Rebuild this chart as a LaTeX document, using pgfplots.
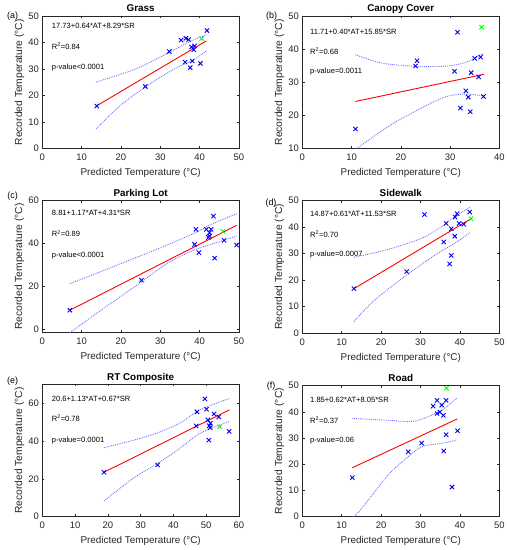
\documentclass[border=0pt]{standalone}
\usepackage{pgfplots}
\pgfplotsset{compat=1.18}
\usepackage{fontspec}
\setmainfont{Liberation Sans}
\definecolor{axgray}{rgb}{0.15,0.15,0.15}
\definecolor{bandblue}{rgb}{0.45,0.45,1}
\pgfplotsset{
  common/.style={
    scale only axis, anchor=north west,
    /pgf/number format/assume math mode=true,
    axis line style={axgray, line width=0.5bp},
    tick style={axgray, line width=0.5bp},
    tick align=inside, major tick length=2.2bp,
    xtick pos=both, ytick pos=both,
    ticklabel style={font=\fontsize{9.5}{11}\selectfont, text=axgray},
    xticklabel style={yshift=-2bp},
    xlabel={Predicted Temperature (°C)},
    ylabel={Recorded Temperature (°C)},
    every axis x label/.style={at={(axis description cs:0.5,0)}, anchor=center, yshift=-24.5bp, font=\fontsize{9.9}{11}\selectfont, text=axgray},
    every axis y label/.style={at={(axis description cs:-0.116,0.5)}, anchor=center, rotate=90, font=\fontsize{10.3}{11}\selectfont, text=axgray},
    every axis title/.style={font=\bfseries\fontsize{9.9}{12}\selectfont, at={(0.5,1)}, anchor=base, inner sep=0pt, yshift=4.2bp},
    clip=true,
  },
  pts/.style={only marks, mark=x, blue, mark size=3bp, line width=0.9bp},
  gpt/.style={only marks, mark=x, green, mark size=3bp, line width=0.9bp},
  fit/.style={red, line width=0.9bp, no marks},
  band/.style={bandblue, densely dotted, line width=0.9bp, no marks, smooth},
}
\tikzset{anno/.style={anchor=west, inner sep=0pt, font=\fontsize{7.6}{9}\selectfont}}
\begin{document}
\begin{tikzpicture}
\useasboundingbox (0,0) rectangle (509bp,550bp);
% (a) Grass
\begin{axis}[common, at={(42.3bp,534bp)}, width=196.7bp, height=132.5bp,
  xmin=0,xmax=50,ymin=0,ymax=50, xtick={0,10,...,50}, ytick={0,10,...,50}, title={Grass}]
\addplot[band] coordinates {(13.67,25.06) (23.2,29.7) (30.0,34.5) (35.1,38.5) (38.5,41.0) (41.85,43.0)};
\addplot[band] coordinates {(13.67,7.4) (19.8,16.2) (26.2,23.2) (33.4,29.9) (38.5,33.5) (41.85,37.0)};
\addplot[fit] coordinates {(13.7,16.0) (41.7,40.6)};
\addplot[pts] coordinates {(13.84,16.0) (26.2,23.4) (32.3,36.6) (35.3,40.9) (36.5,41.6) (37.2,41.1) (41.85,44.5) (37.9,38.3) (38.7,38.7) (38.5,37.3) (36.3,32.6) (38.1,33.0) (37.6,30.5) (40.2,32.1)};
\addplot[gpt] coordinates {(40.5,41.5)};
\node[anno] at (axis cs:2.4,46.2) {17.73+0.64*AT+8.29*SR};
\node[anno] at (axis cs:2.4,38.6) {R\textsuperscript{2}=0.84};
\node[anno] at (axis cs:2.4,30.6) {p-value<0.0001};
\end{axis}
% (b) Canopy Cover
\begin{axis}[common, at={(302.3bp,534bp)}, width=197bp, height=132.5bp,
  xmin=0,xmax=40,ymin=10,ymax=50, xtick={0,10,...,40}, ytick={10,20,...,50}, title={Canopy Cover}]
\addplot[band] coordinates {(10.8,38.3) (16.1,35.8) (22.9,34.8) (28.3,34.8) (31.0,35.2) (33.7,36.3) (36.9,38.8)};
\addplot[band] coordinates {(10.8,9.7) (17.5,16.7) (22.9,21.2) (28.3,25.2) (31.0,26.2) (33.7,26.4) (36.9,25.9)};
\addplot[fit] coordinates {(10.8,24.2) (36.9,32.4)};
\addplot[pts] coordinates {(10.8,15.9) (23.0,34.9) (23.3,36.5) (31.5,45.1) (30.9,33.3) (32.1,22.2) (33.2,27.4) (33.7,25.5) (34.1,21.1) (34.3,32.9) (35.0,37.2) (35.8,31.6) (36.2,37.6) (36.8,25.7)};
\addplot[gpt] coordinates {(36.4,46.6)};
\node[anno] at (axis cs:1.56,45.1) {11.71+0.40*AT+15.85*SR};
\node[anno] at (axis cs:1.56,39.3) {R\textsuperscript{2}=0.68};
\node[anno] at (axis cs:1.56,33.2) {p-value=0.0011};
\end{axis}
% (c) Parking Lot
\begin{axis}[common, at={(42.3bp,349.3bp)}, width=196.7bp, height=131.6bp,
  xmin=0,xmax=50,ymin=-1.4,ymax=60, xtick={0,10,...,50}, ytick={0,20,40,60}, title={Parking Lot}]
\addplot[band] coordinates {(7,21.3) (14.7,26.8) (23.2,33.0) (31.7,39.3) (38.5,44.7) (43.5,49.4) (49.4,53.9)};
\addplot[band] coordinates {(7,-1.6) (14.7,8.6) (25.2,22.1) (31.7,30.7) (38.5,36.9) (43.5,40.0) (49.4,43.5)};
\addplot[fit] coordinates {(7,8.9) (49.4,48.5)};
\addplot[pts] coordinates {(7.0,8.9) (25.2,22.9) (38.7,39.6) (39.05,46.6) (39.8,35.8) (41.7,46.6) (42.2,42.9) (42.5,45.0) (42.9,46.6) (42.5,43.5) (43.5,52.8) (43.8,33.2) (46.2,41.5) (49.4,39.3)};
\addplot[gpt] coordinates {(45.9,45.7)};
\node[anno] at (axis cs:2.4,54.1) {8.81+1.17*AT+4.31*SR};
\node[anno] at (axis cs:2.4,44.6) {R\textsuperscript{2}=0.89};
\node[anno] at (axis cs:2.4,34.4) {p-value<0.0001};
\end{axis}
% (d) Sidewalk
\begin{axis}[common, at={(302.3bp,349.3bp)}, width=197bp, height=132.3bp,
  xmin=0,xmax=50,ymin=0,ymax=50, xtick={0,10,...,50}, ytick={0,10,...,50}, title={Sidewalk}]
\addplot[band] coordinates {(13.1,28.6) (21.8,31.6) (30.3,35.8) (35.4,40.2) (38.7,44.0) (42.5,47.5)};
\addplot[band] coordinates {(13.1,4.3) (18.4,12.5) (26.5,21.9) (33.7,29.5) (38.7,33.9) (42.5,37.9)};
\addplot[fit] coordinates {(13.1,16.75) (42.5,42.9)};
\addplot[pts] coordinates {(13.1,16.75) (26.5,23.2) (31.0,44.8) (35.9,34.4) (36.5,41.4) (37.4,26.1) (37.8,29.3) (37.8,39.4) (38.7,36.6) (38.8,43.8) (39.3,45.1) (39.8,41.4) (41.0,41.1) (42.5,45.7)};
\addplot[gpt] coordinates {(42.8,43.2)};
\node[anno] at (axis cs:1.95,45.1) {14.87+0.61*AT+11.53*SR};
\node[anno] at (axis cs:1.95,37.3) {R\textsuperscript{2}=0.70};
\node[anno] at (axis cs:1.95,29.5) {p-value=0.0007};
\end{axis}
% (e) RT Composite
\begin{axis}[common, at={(42.3bp,165.7bp)}, width=196.7bp, height=132.4bp,
  xmin=0,xmax=60,ymin=0,ymax=70, xtick={0,10,...,60}, ytick={0,20,40,60}, title={RT Composite}]
\addplot[band] coordinates {(18.8,36.5) (27.8,40.4) (34.9,44.2) (42.1,49.6) (48.2,56.6) (57.1,62.5)};
\addplot[band] coordinates {(18.8,8.3) (27.8,20.4) (34.9,27.8) (42.1,36.3) (48.2,44.2) (57.1,50.4)};
\addplot[fit] coordinates {(18.8,23.5) (57.1,56.5)};
\addplot[pts] coordinates {(18.8,23.5) (35.2,27.4) (46.96,48.0) (47.2,55.4) (49.6,62.3) (50.1,56.8) (50.5,51.2) (50.9,48.1) (50.8,40.5) (51.2,47.1) (51.3,49.4) (52.4,54.3) (53.8,52.7) (57.0,45.1)};
\addplot[gpt] coordinates {(54.1,47.6)};
\node[anno] at (axis cs:2.85,62.3) {20.6+1.13*AT+0.67*SR};
\node[anno] at (axis cs:2.85,52.0) {R\textsuperscript{2}=0.78};
\node[anno] at (axis cs:2.85,40.2) {p-value=0.0001};
\end{axis}
% (f) Road
\begin{axis}[common, at={(302.3bp,164.3bp)}, width=197bp, height=131bp,
  xmin=0,xmax=50,ymin=0,ymax=50, xtick={0,10,...,50}, ytick={0,10,...,50}, title={Road}]
\addplot[band] coordinates {(12.7,37.5) (21.8,36.8) (26.9,36.3) (30.3,37.2) (35.4,40.7) (39.3,45.4)};
\addplot[band] coordinates {(12.7,-0.6) (15.1,3.2) (21.8,15.9) (26.9,22.9) (30.3,26.7) (35.4,28.0) (39.3,29.3)};
\addplot[fit] coordinates {(12.7,18.7) (39.3,37.3)};
\addplot[pts] coordinates {(12.7,14.9) (26.9,24.8) (30.3,28.1) (33.2,42.2) (34.2,44.4) (34.2,39.4) (34.9,39.9) (35.4,42.6) (35.8,38.7) (35.9,25.1) (36.5,44.4) (36.5,31.3) (38.0,11.3) (39.4,32.8)};
\addplot[gpt] coordinates {(36.6,49.0)};
\node[anno] at (axis cs:1.95,44.5) {1.85+0.62*AT+8.05*SR};
\node[anno] at (axis cs:1.95,36.9) {R\textsuperscript{2}=0.37};
\node[anno] at (axis cs:1.95,28.9) {p-value=0.06};
\end{axis}
\node[font=\fontsize{9}{10}\selectfont] at (12.7bp,534.3bp) {(a)};
\node[font=\fontsize{9}{10}\selectfont] at (271.7bp,534.3bp) {(b)};
\node[font=\fontsize{9}{10}\selectfont] at (12.7bp,354bp) {(c)};
\node[font=\fontsize{9}{10}\selectfont] at (271bp,347.3bp) {(d)};
\node[font=\fontsize{9}{10}\selectfont] at (12.7bp,169bp) {(e)};
\node[font=\fontsize{9}{10}\selectfont] at (271bp,164.3bp) {(f)};
\end{tikzpicture}
\end{document}
